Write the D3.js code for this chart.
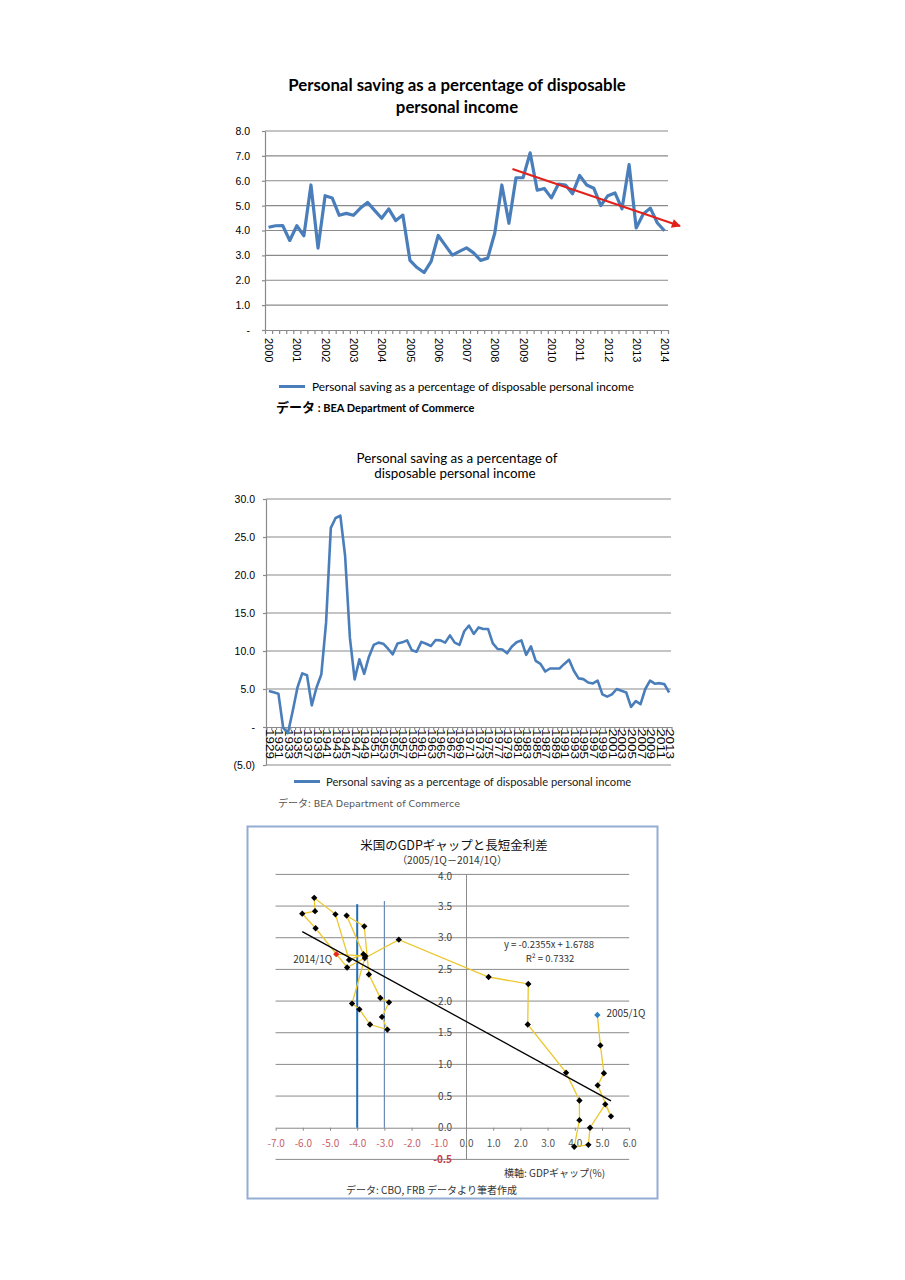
<!DOCTYPE html>
<html>
<head>
<meta charset="utf-8">
<script src="https://cdn.jsdelivr.net/npm/d3@7"></script>
<style>
  body { margin: 0; background: #fff; }
  svg text { font-family: Lato, "Liberation Sans", sans-serif; }
</style>
</head>
<body>
<svg id="page" width="905" height="1280"></svg>
<script>
// ---------- data ----------
// chart 1 : quarterly, 2000Q1 - 2014Q1
var c1Years = ['2000','2001','2002','2003','2004','2005','2006','2007','2008','2009','2010','2011','2012','2013','2014'];
var c1Values = [4.13,4.19,4.2,3.6,4.19,3.79,5.83,3.29,5.4,5.31,
                4.61,4.69,4.61,4.9,5.13,4.81,4.49,4.87,4.4,4.62,
                2.8,2.51,2.31,2.76,3.8,3.4,3.01,3.16,3.3,3.1,
                2.8,2.89,3.9,5.83,4.29,6.12,6.12,7.12,5.62,5.69,
                5.31,5.87,5.83,5.48,6.21,5.83,5.7,5.0,5.4,5.51,
                4.87,6.65,4.1,4.66,4.9,4.3,3.99];
var c1YTicks = [0,1,2,3,4,5,6,7,8];
var c1Trend = [[34.5, 6.47], [58.2, 4.18]];   // hand drawn red arrow (index, value)

// chart 2 : annual, 1929 - 2013
var c2FirstYear = 1929;
var c2Values = [4.74,4.56,4.39,-0.1,-0.8,2.1,5.2,7.06,6.8,2.85,
                5.2,6.9,13.7,26.2,27.5,27.8,22.5,11.75,6.27,8.9,
                7.0,9.25,10.8,11.1,10.96,10.3,9.56,11.0,11.14,11.4,
                10.1,9.9,11.2,10.96,10.66,11.45,11.4,11.1,12.06,11.1,
                10.8,12.6,13.35,12.25,13.1,12.9,12.9,11.0,10.26,10.2,
                9.7,10.6,11.15,11.4,9.5,10.6,8.7,8.3,7.3,7.7,
                7.7,7.7,8.3,8.85,7.4,6.4,6.3,5.86,5.73,6.1,
                4.3,4.0,4.3,5.0,4.76,4.54,2.64,3.4,3.0,5.0,
                6.1,5.7,5.77,5.64,4.54];
var c2YTicks = [-5,0,5,10,15,20,25,30];

// chart 3 : GDP gap (x) vs long-short spread (y), 2005/1Q - 2014/1Q
var c3Gap    = [4.83,4.94,5.07,4.84,5.33,5.12,4.56,4.50,3.98,4.17,4.17,3.68,
                2.27,2.29,0.83,-2.47,-4.37,-5.53,-6.02,-5.55,-5.58,-4.80,-4.30,-3.77,
                -4.39,-3.74,-3.57,-3.15,-2.83,-3.09,-2.89,-3.53,-3.92,-4.19,-3.72,-3.70,-4.77];
var c3Spread = [1.78,1.30,0.86,0.67,0.18,0.37,0.0,-0.27,-0.30,0.12,0.43,0.87,
                1.63,2.27,2.38,2.97,2.53,3.15,3.38,3.42,3.63,3.37,2.65,2.74,
                3.35,3.18,2.42,2.05,1.98,1.75,1.55,1.63,1.87,1.96,2.68,2.71,2.74];
var c3FirstLabel = '2005/1Q';
var c3LastLabel = '2014/1Q';
var c3XTicks = [-7,-6,-5,-4,-3,-2,-1,0,1,2,3,4,5,6];
var c3YTicks = [-0.5,0,0.5,1,1.5,2,2.5,3,3.5,4];
var c3RefLines = [{gap: -4, top: 3.53}, {gap: -3, top: 3.58}];
var c3Fit = {slope: -0.2355, intercept: 1.6788, r2: 0.7332};

var gridColor = '#8a8a8a';
var lineBlue = '#4a7ebb';

var svg = d3.select('#page');
svg.append('rect').attr('width', 905).attr('height', 1280).attr('fill', '#fff');

// ================= chart 1 =================
var x1 = d3.scaleLinear().domain([-0.5, c1Values.length - 0.5]).range([265, 668]);
var y1 = d3.scaleLinear().domain([0, 8]).range([330, 131]);
var g1 = svg.append('g');

g1.append('text').attr('x', 457).attr('y', 91).attr('text-anchor', 'middle')
  .style('font-size', '16.8px').style('font-weight', 'bold')
  .text('Personal saving as a percentage of disposable');
g1.append('text').attr('x', 457).attr('y', 113).attr('text-anchor', 'middle')
  .style('font-size', '16.8px').style('font-weight', 'bold')
  .text('personal income');

g1.selectAll('line.grid').data(c1YTicks.filter(function(d){ return d > 0; }))
  .enter().append('line').attr('class', 'grid')
  .attr('x1', 265).attr('x2', 668)
  .attr('y1', function(d){ return y1(d); }).attr('y2', function(d){ return y1(d); })
  .attr('stroke', gridColor).attr('stroke-width', 1.2);

var ax1y = g1.append('g').attr('transform', 'translate(265,0)')
  .call(d3.axisLeft(y1).tickValues(c1YTicks).tickSizeInner(3).tickSizeOuter(0).tickPadding(12)
    .tickFormat(function(d){ return d === 0 ? '-' : d.toFixed(1); }));
ax1y.selectAll('path,line').attr('stroke', gridColor).attr('stroke-width', 1.2);
ax1y.selectAll('text').style('font-family', '"Liberation Sans", Arial, sans-serif')
  .style('font-size', '10.5px').attr('fill', '#000');

// x axis : ticks between the quarters, year labels under each first quarter
var ax1x = g1.append('g').attr('transform', 'translate(0,330)')
  .call(d3.axisBottom(x1).tickValues(d3.range(c1Values.length + 1).map(function(i){ return i - 0.5; }))
    .tickSizeInner(4).tickSizeOuter(0).tickFormat(''));
ax1x.selectAll('path,line').attr('stroke', gridColor).attr('stroke-width', 1.2);

var ax1lab = g1.append('g').attr('transform', 'translate(0,330)')
  .call(d3.axisBottom(x1).tickValues(c1Years.map(function(d, i){ return i * 4; }))
    .tickSize(0).tickFormat(function(d){ return c1Years[d / 4]; }));
ax1lab.select('path').remove();
ax1lab.selectAll('text')
  .attr('transform', 'rotate(90)').attr('x', 8).attr('y', 0).attr('dy', '0.35em')
  .style('text-anchor', 'start')
  .style('font-family', '"Liberation Sans", Arial, sans-serif')
  .style('font-size', '11px').attr('fill', '#000');

var line1 = d3.line()
  .x(function(d, i){ return x1(i); })
  .y(function(d){ return y1(d); });
g1.append('path').datum(c1Values).attr('d', line1)
  .attr('fill', 'none').attr('stroke', lineBlue).attr('stroke-width', 3.2)
  .attr('stroke-linejoin', 'round');

// red trend arrow
var defs = svg.append('defs');
defs.append('marker').attr('id', 'arrowRed')
  .attr('viewBox', '0 0 10 10').attr('refX', 9).attr('refY', 5)
  .attr('markerWidth', 11).attr('markerHeight', 9).attr('markerUnits', 'userSpaceOnUse')
  .attr('orient', 'auto')
  .append('path').attr('d', 'M0,0 L10,5 L0,10 Z').attr('fill', '#e3211c');
g1.append('line')
  .attr('x1', x1(c1Trend[0][0])).attr('y1', y1(c1Trend[0][1]))
  .attr('x2', x1(c1Trend[1][0])).attr('y2', y1(c1Trend[1][1]))
  .attr('stroke', '#e3211c').attr('stroke-width', 2)
  .attr('marker-end', 'url(#arrowRed)');

// legend + source
g1.append('line').attr('x1', 279).attr('x2', 305).attr('y1', 386.5).attr('y2', 386.5)
  .attr('stroke', lineBlue).attr('stroke-width', 3);
g1.append('text').attr('x', 312).attr('y', 390.5).style('font-size', '11.8px')
  .text('Personal saving as a  percentage of disposable  personal income');
var src1 = g1.append('text').attr('x', 276).attr('y', 412).style('font-weight', 'bold');
src1.append('tspan').style('font-family', '"Noto Sans CJK JP", sans-serif').style('font-size', '13px').text('データ');
src1.append('tspan').style('font-size', '11px').text(' : BEA Department of Commerce');

// ================= chart 2 =================
var x2 = d3.scaleLinear().domain([c2FirstYear - 0.5, c2FirstYear + c2Values.length - 0.5]).range([266.5, 671.5]);
var y2 = d3.scaleLinear().domain([-5, 30]).range([765, 499]);
var g2 = svg.append('g');

g2.append('text').attr('x', 457).attr('y', 463).attr('text-anchor', 'middle')
  .style('font-size', '13.4px').text('Personal saving as a percentage of');
g2.append('text').attr('x', 455).attr('y', 478).attr('text-anchor', 'middle')
  .style('font-size', '13.4px').text('disposable personal income');

g2.selectAll('line.grid').data(c2YTicks.filter(function(d){ return d !== 0; }))
  .enter().append('line').attr('class', 'grid')
  .attr('x1', 266).attr('x2', 671)
  .attr('y1', function(d){ return y2(d); }).attr('y2', function(d){ return y2(d); })
  .attr('stroke', gridColor).attr('stroke-width', 1.2);

var ax2y = g2.append('g').attr('transform', 'translate(266,0)')
  .call(d3.axisLeft(y2).tickValues(c2YTicks).tickSizeInner(3).tickSizeOuter(0).tickPadding(8)
    .tickFormat(function(d){ return d === 0 ? '-' : (d < 0 ? '(' + (-d).toFixed(1) + ')' : d.toFixed(1)); }));
ax2y.selectAll('path,line').attr('stroke', gridColor).attr('stroke-width', 1.2);
ax2y.selectAll('text').style('font-family', '"Liberation Sans", Arial, sans-serif')
  .style('font-size', '10.5px').attr('fill', '#000');

var c2Years = c2Values.map(function(d, i){ return c2FirstYear + i; });
var ax2x = g2.append('g').attr('transform', 'translate(0,' + y2(0) + ')')
  .call(d3.axisBottom(x2).tickValues(c2Years.concat([c2FirstYear + c2Values.length]).map(function(y){ return y - 0.5; }))
    .tickSizeInner(3).tickSizeOuter(0).tickFormat(''));
ax2x.selectAll('path,line').attr('stroke', gridColor).attr('stroke-width', 1.2);

var ax2lab = g2.append('g').attr('transform', 'translate(0,' + y2(0) + ')')
  .call(d3.axisBottom(x2).tickValues(c2Years.filter(function(y, i){ return i % 2 === 0; }))
    .tickSize(0).tickFormat(function(d){ return String(d); }));
ax2lab.select('path').remove();
ax2lab.selectAll('text')
  .attr('transform', 'rotate(90)').attr('x', 2).attr('y', 0).attr('dy', '0.35em')
  .style('text-anchor', 'start')
  .style('font-family', '"Liberation Sans", Arial, sans-serif')
  .style('font-size', '10px').attr('fill', '#000')
  .attr('textLength', 30).attr('lengthAdjust', 'spacingAndGlyphs');

var line2 = d3.line()
  .x(function(d, i){ return x2(c2FirstYear + i); })
  .y(function(d){ return y2(d); });
g2.append('path').datum(c2Values).attr('d', line2)
  .attr('fill', 'none').attr('stroke', lineBlue).attr('stroke-width', 2.6)
  .attr('stroke-linejoin', 'round');

g2.append('line').attr('x1', 294).attr('x2', 320).attr('y1', 781.5).attr('y2', 781.5)
  .attr('stroke', lineBlue).attr('stroke-width', 3);
g2.append('text').attr('x', 326).attr('y', 785.5).style('font-size', '11.2px').attr('fill', '#222')
  .text('Personal saving as a percentage of disposable personal income');
var src2 = g2.append('text').attr('x', 278).attr('y', 807).attr('fill', '#555').style('font-size', '10px');
src2.append('tspan').style('font-family', '"Noto Sans CJK JP", sans-serif').text('データ:');
src2.append('tspan').style('font-family', '"DejaVu Sans", sans-serif').style('font-size', '9.5px').text(' BEA Department of Commerce');

// ================= chart 3 =================
var x3 = d3.scaleLinear().domain([-7, 6]).range([275.6, 629.2]);
var y3 = d3.scaleLinear().domain([-0.5, 4]).range([1159.4, 874.4]);
var jp = '"Noto Sans CJK JP", sans-serif';
var g3 = svg.append('g').style('font-family', jp);

g3.append('rect').attr('x', 247.5).attr('y', 826.5).attr('width', 410).attr('height', 372)
  .attr('fill', 'none').attr('stroke', '#94acd2').attr('stroke-width', 2);

g3.append('text').attr('x', 454).attr('y', 850).attr('text-anchor', 'middle')
  .style('font-family', jp).style('font-size', '12.5px').attr('fill', '#111')
  .text('米国のGDPギャップと長短金利差');
g3.append('text').attr('x', 452).attr('y', 864).attr('text-anchor', 'middle')
  .style('font-family', jp).style('font-size', '10.2px').attr('fill', '#333')
  .text('（2005/1Q－2014/1Q）');

g3.selectAll('line.grid').data(c3YTicks.filter(function(d){ return d !== 0; }))
  .enter().append('line').attr('class', 'grid')
  .attr('x1', x3(-7)).attr('x2', x3(6))
  .attr('y1', function(d){ return y3(d); }).attr('y2', function(d){ return y3(d); })
  .attr('stroke', gridColor).attr('stroke-width', 1);

// vertical axis through x = 0
var ax3y = g3.append('g').attr('transform', 'translate(' + x3(0) + ',0)')
  .call(d3.axisLeft(y3).tickValues(c3YTicks).tickSize(0).tickPadding(14)
    .tickFormat(function(d){ return d.toFixed(1); }));
ax3y.select('path').attr('stroke', gridColor);
ax3y.selectAll('text').style('font-family', jp).style('font-size', '10px')
  .attr('fill', function(d){ return d < 0 ? '#c0404a' : '#444'; })
  .style('font-weight', function(d){ return d < 0 ? 'bold' : 'normal'; });
ax3y.selectAll('.tick').filter(function(d){ return d === 4; }).select('text').attr('dy', '0.5em');

// horizontal axis through y = 0
var ax3x = g3.append('g').attr('transform', 'translate(0,' + y3(0) + ')')
  .call(d3.axisBottom(x3).tickValues(c3XTicks).tickSizeInner(3).tickSizeOuter(0).tickPadding(9)
    .tickFormat(function(d){ return d.toFixed(1); }));
ax3x.selectAll('path,line').attr('stroke', gridColor);
ax3x.selectAll('text').style('font-family', jp).style('font-size', '10px')
  .attr('fill', function(d){ return d < 0 ? '#c8606a' : '#555'; });

// reference lines at GDP gap -4 and -3
g3.selectAll('line.ref').data(c3RefLines).enter().append('line').attr('class', 'ref')
  .attr('x1', function(d){ return x3(d.gap); }).attr('x2', function(d){ return x3(d.gap); })
  .attr('y1', function(d){ return y3(d.top); }).attr('y2', y3(0))
  .attr('stroke', function(d, i){ return i === 0 ? '#1f6fb7' : '#6b8bb3'; })
  .attr('stroke-width', function(d, i){ return i === 0 ? 2 : 1.2; });

var pts = c3Gap.map(function(g, i){ return {gap: g, spread: c3Spread[i]}; });

var line3 = d3.line()
  .x(function(d){ return x3(d.gap); })
  .y(function(d){ return y3(d.spread); });
g3.append('path').datum(pts).attr('d', line3)
  .attr('fill', 'none').attr('stroke', '#ecc72e').attr('stroke-width', 1.3);

// fitted line
var fitX = d3.extent(c3Gap);
g3.append('line')
  .attr('x1', x3(fitX[0])).attr('y1', y3(c3Fit.slope * fitX[0] + c3Fit.intercept))
  .attr('x2', x3(fitX[1])).attr('y2', y3(c3Fit.slope * fitX[1] + c3Fit.intercept))
  .attr('stroke', '#000').attr('stroke-width', 1.3);

// diamond markers (square turned 45 degrees)
var marker = d3.symbol().type(d3.symbolSquare).size(20);
g3.selectAll('path.pt').data(pts).enter().append('path').attr('class', 'pt')
  .attr('d', marker)
  .attr('transform', function(d){ return 'translate(' + x3(d.gap) + ',' + y3(d.spread) + ') rotate(45)'; })
  .attr('fill', function(d, i){
    if (i === 0) return '#2a7fc4';
    if (i === pts.length - 1) return '#e8281e';
    return '#000';
  });

g3.append('text').attr('x', x3(pts[pts.length - 1].gap) - 4).attr('y', y3(pts[pts.length - 1].spread) + 9)
  .attr('text-anchor', 'end').style('font-family', jp).style('font-size', '10px').attr('fill', '#333')
  .text(c3LastLabel);
g3.append('text').attr('x', x3(pts[0].gap) + 9).attr('y', y3(pts[0].spread) + 2)
  .style('font-family', jp).style('font-size', '10px').attr('fill', '#333')
  .text(c3FirstLabel);

g3.append('text').attr('x', 549).attr('y', 948).attr('text-anchor', 'middle')
  .style('font-family', jp).style('font-size', '9.5px').attr('fill', '#333')
  .text('y = ' + c3Fit.slope.toFixed(4) + 'x + ' + c3Fit.intercept.toFixed(4));
g3.append('text').attr('x', 550).attr('y', 962).attr('text-anchor', 'middle')
  .style('font-family', jp).style('font-size', '9.5px').attr('fill', '#333')
  .text('R² = ' + c3Fit.r2.toFixed(4));

g3.append('text').attr('x', 504).attr('y', 1177)
  .style('font-family', jp).style('font-size', '10px').attr('fill', '#333')
  .text('横軸: GDPギャップ(%)');
g3.append('text').attr('x', 346).attr('y', 1194)
  .style('font-family', jp).style('font-size', '10px').attr('fill', '#333')
  .text('データ: CBO, FRB データより筆者作成');
</script>
</body>
</html>
